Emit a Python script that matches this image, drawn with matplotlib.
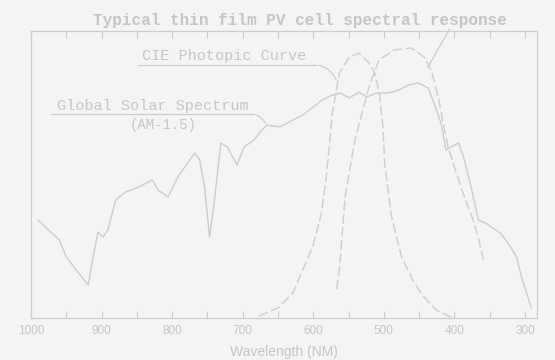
import matplotlib
matplotlib.use('Agg')
import matplotlib.pyplot as pyplot

# Wavelength [nm] vs relative response [%]
solar_wl = [990, 987, 960, 950, 936, 919, 912, 905, 898, 891, 880, 866, 848, 828, 820,
            806, 792, 768, 761, 754, 747, 740, 731, 722, 708, 698, 684, 675, 666, 647,
            629, 615, 587, 573, 562, 549, 535, 524, 510, 493, 479, 465, 451, 437, 429,
            419, 412, 405, 394, 387, 377, 366, 356, 335, 324, 312, 305, 291]
solar_val = [34.1, 33.4, 27.2, 21.3, 16.7, 11.5, 21.3, 30.0, 28.2, 30.7, 41.1, 43.9, 45.6, 48.1, 44.6,
             42.2, 49.1, 57.5, 55.1, 45.6, 28.2, 41.1, 61.0, 59.6, 53.3, 59.6, 62.0, 64.8, 67.2, 66.6,
             69.0, 70.7, 76.0, 77.7, 78.4, 76.7, 78.7, 77.0, 78.4, 78.4, 79.4, 81.2, 81.9, 80.1, 74.9,
             67.9, 58.5, 59.6, 61.0, 56.1, 46.3, 34.1, 33.1, 29.6, 26.1, 21.3, 14.3, 3.5]

cie_wl = [677, 650, 629, 615, 601, 589, 582, 577, 573, 563, 549, 535, 521, 513, 506,
          501, 499, 489, 475, 457, 443, 426, 405]
cie_val = [0.7, 3.5, 8.7, 16.7, 24.7, 35.9, 48.1, 60.3, 71.4, 85.4, 90.9, 92.3, 88.9, 85.4, 77.7,
           65.5, 54.0, 35.2, 21.3, 12.2, 7.3, 2.8, 0.3]

pv_wl = [567, 563, 555, 541, 531, 521, 507, 485, 461, 443, 433, 423, 416, 409, 398,
         387, 374, 366, 359]
pv_val = [10.0, 16.7, 42.2, 62.0, 71.4, 80.5, 89.9, 93.4, 94.1, 90.9, 86.4, 77.0, 67.9, 59.6, 51.0,
          43.0, 34.5, 28.0, 20.2]

tick_major = [1000, 900, 800, 700, 600, 500, 400, 300]
tick_minor = [950, 850, 750, 650, 550, 450, 350]

paper = '#f4f4f2'
ink = '#cdcdcd'
txt = '#c6c6c6'

figure = pyplot.figure(figsize=(5.55, 3.6), dpi=100, facecolor=paper)
ax = figure.add_axes([31/555, 1 - 318/360, 506/555, 287/360], facecolor=paper)

ax.plot(solar_wl, solar_val, c=ink, lw=1.0)
ax.plot(cie_wl, cie_val, c=ink, lw=1.0, ls=(0, (7, 2.5)))
ax.plot(pv_wl, pv_val, c=ink, lw=1.0, ls=(0, (7, 2.5)))

ax.set_xlim(990, 283)
ax.set_ylim(0, 100)

ax.set_xticks(tick_major)
ax.set_xticks(tick_minor, minor=True)
ax.set_yticks([])
ax.tick_params(axis='x', which='both', direction='in', top=True, length=5, width=0.8, color=ink,
               labelcolor=txt, labelsize=8.5, pad=5)
for lab in ax.get_xticklabels():
    lab.set_family('Liberation Sans')
for s in ax.spines.values():
    s.set_color(ink)
    s.set_linewidth(0.9)

ax.set_xlabel('Wavelength (NM)', fontsize=10, color=txt, family='Liberation Sans', labelpad=6)

figure.text(300/555, 1 - 20/360, 'Typical thin film PV cell spectral response', ha='center', va='center',
            fontsize=11.5, fontweight='bold', color=txt, family='Liberation Mono')

# Labels with underline and leader lines
ax.text(726, 91.3, 'CIE Photopic Curve', ha='center', va='center', fontsize=11, color=txt,
        family='Liberation Mono')
ax.plot([848, 596], [88.3, 88.3], c=ink, lw=0.9)
ax.annotate('', xy=(566, 82), xytext=(596, 88.3),
            arrowprops=dict(arrowstyle='-', color=ink, lw=0.9, connectionstyle='arc3,rad=-0.3'))

ax.text(828, 73.8, 'Global Solar Spectrum', ha='center', va='center', fontsize=11, color=txt,
        family='Liberation Mono')
ax.text(813, 67.4, '(AM-1.5)', ha='center', va='center', fontsize=10, color=txt,
        family='Liberation Mono')
ax.plot([971, 684], [71.1, 71.1], c=ink, lw=0.9)
ax.annotate('', xy=(666, 67.2), xytext=(684, 71.1),
            arrowprops=dict(arrowstyle='-', color=ink, lw=0.9, connectionstyle='arc3,rad=-0.2'))

ax.annotate('', xy=(440, 86.4), xytext=(405, 101.5), annotation_clip=False,
            arrowprops=dict(arrowstyle='-', color=ink, lw=0.9))

figure.savefig('out.png', dpi=100, facecolor=paper)
